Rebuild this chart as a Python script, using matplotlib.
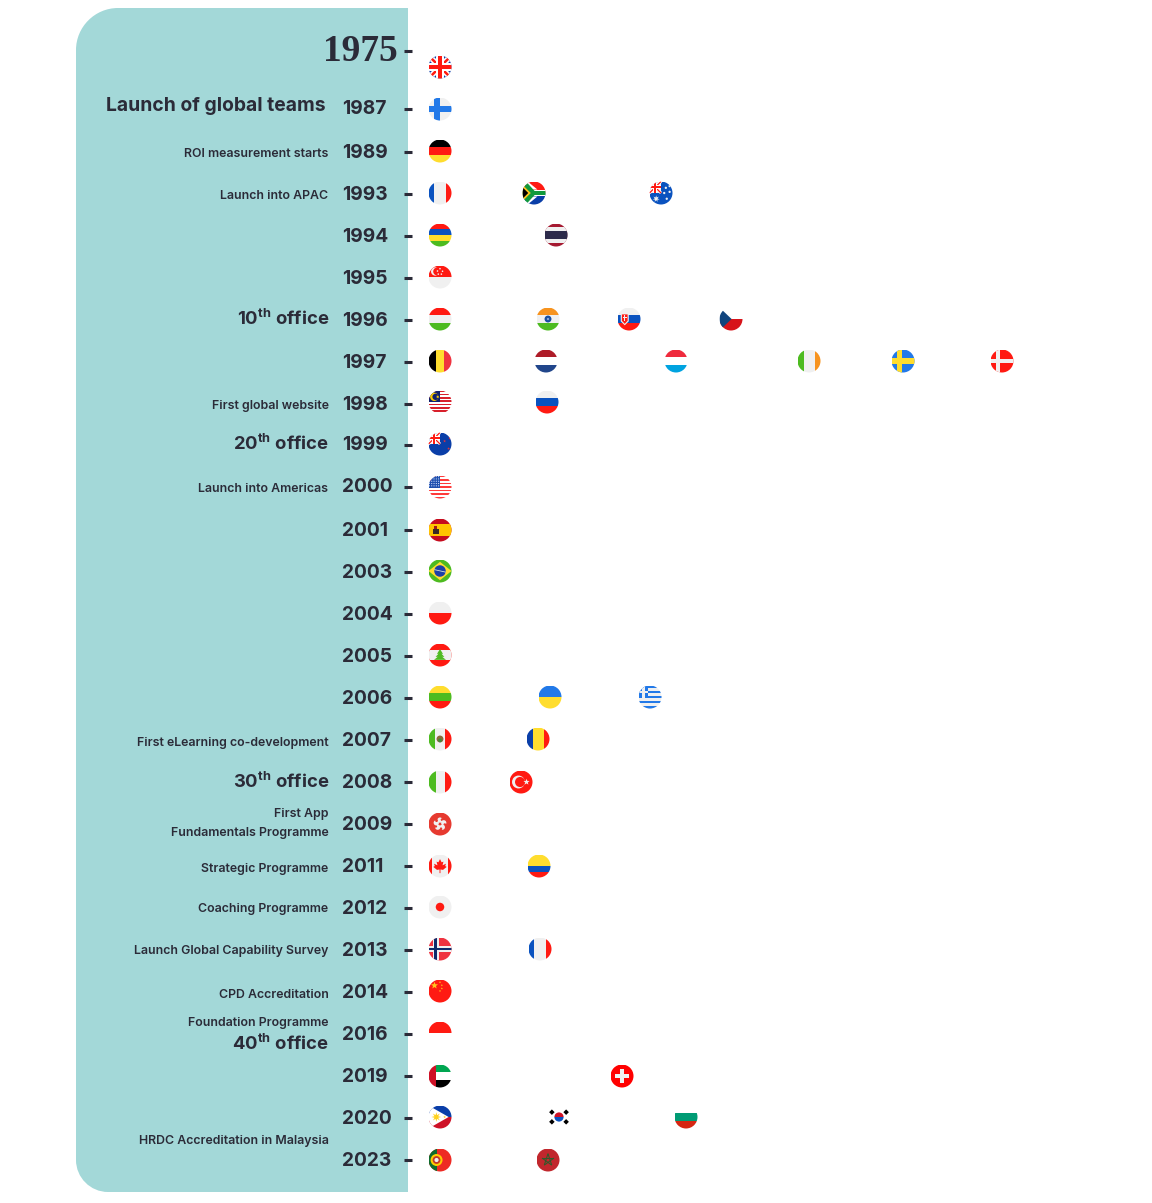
import numpy as np
import matplotlib
matplotlib.use('Agg')
import matplotlib.pyplot as plt
from matplotlib.patches import Circle, Polygon, PathPatch, Wedge
from matplotlib.path import Path

# Timeline rows
years = ['1975', '1987', '1989', '1993', '1994', '1995', '1996', '1997', '1998', '1999',
         '2000', '2001', '2003', '2004', '2005', '2006', '2007', '2008', '2009', '2011',
         '2012', '2013', '2014', '2016', '2019', '2020', '2023']
year_y = [50, 108, 151, 193, 235, 277, 319, 361, 403, 444, 486, 529, 571, 613, 655, 697,
          739, 781, 823, 865, 907, 949, 991, 1033, 1075, 1117, 1159.5]

# Countries opened each year, with where each flag sits along the row
year_flags = [['uk'], ['finland'], ['germany'], ['france', 'south_africa', 'australia'],
              ['mauritius', 'thailand'], ['singapore'],
              ['hungary', 'india', 'slovakia', 'czech'],
              ['belgium', 'netherlands', 'luxembourg', 'ireland', 'sweden', 'denmark'],
              ['malaysia', 'russia'], ['new_zealand'], ['usa'], ['spain'], ['brazil'],
              ['poland'], ['lebanon'], ['lithuania', 'ukraine', 'greece'],
              ['mexico', 'romania'], ['italy', 'turkey'], ['hong_kong'],
              ['canada', 'colombia'], ['japan'], ['norway', 'france'], ['china'],
              ['indonesia'], ['uae', 'switzerland'], ['philippines', 'korea', 'bulgaria'],
              ['portugal', 'morocco']]
flag_x = [[440], [440], [440], [440, 534, 661], [440, 556], [440], [440, 548, 629, 731],
          [440, 546, 676, 809, 903, 1002], [440, 547], [440], [440], [440], [440], [440],
          [440], [440, 550, 650], [440, 538], [440, 521], [440], [440, 539], [440],
          [440, 540], [440], [440], [440, 622], [440, 559, 686], [440, 548]]
flag_y = [67, 109, 151, 193, 235, 277, 319, 361, 402, 444, 487, 530, 571, 613, 655, 697,
          739, 782, 824, 866, 907, 949, 991, 1033, 1076, 1117, 1160]

# Events on the left of the timeline
big_events = ['Launch of global teams', '10$^{\\mathregular{th}}$ office',
              '20$^{\\mathregular{th}}$ office', '30$^{\\mathregular{th}}$ office',
              '40$^{\\mathregular{th}}$ office']
big_events_y = [106, 319, 444, 782, 1044]
big_events_right = [325.5, 329, 329, 329, 329]
big_events_pt = [13.9, 13.3, 13.3, 13.3, 13.3]
small_events = ['ROI measurement starts', 'Launch into APAC', 'First global website',
                'Launch into Americas', 'First eLearning co-development', 'First App',
                'Fundamentals Programme', 'Strategic Programme', 'Coaching Programme',
                'Launch Global Capability Survey', 'CPD Accreditation',
                'Foundation Programme', 'HRDC Accreditation in Malaysia']
small_events_y = [154, 196, 406, 489, 743, 814, 833, 869, 909, 951, 995, 1023, 1141]

panel_color = '#a3d8d8'
ink = '#2b2b38'
off_white = '#f0f0f0'
white = '#ffffff'
red = '#ff1a12'
blue = '#0a52bf'
green = '#4dbb20'
yellow = '#ffdd2e'
navy = '#0f3fa8'
sky = '#2279e8'

# Plain striped flags: direction, colours and the inner stripe edges
stripes = {
    'germany': ('h', ['#000000', red, yellow], [-0.36, 0.32]),
    'france': ('v', [blue, off_white, red], [-0.5, 0.5]),
    'mauritius': ('h', [red, blue, yellow, green], [-0.5, 0, 0.5]),
    'hungary': ('h', [red, off_white, green], [-0.35, 0.36]),
    'belgium': ('v', ['#000000', yellow, '#ef3340'], [-0.37, 0.31]),
    'netherlands': ('h', ['#ae1c28', white, '#21468b'], [-0.36, 0.34]),
    'luxembourg': ('h', ['#ef2b3d', white, '#00a3e0'], [-0.36, 0.34]),
    'ireland': ('v', [green, off_white, '#f7931e'], [-0.46, 0.5]),
    'russia': ('h', [off_white, blue, red], [-0.33, 0.35]),
    'poland': ('h', [off_white, red], [0]),
    'lithuania': ('h', [yellow, green, red], [-0.33, 0.35]),
    'ukraine': ('h', [sky, yellow], [0]),
    'romania': ('v', ['#0a3ea8', yellow, red], [-0.43, 0.49]),
    'italy': ('v', [green, off_white, red], [-0.33, 0.46]),
    'indonesia': ('h', [red, white], [0]),
    'bulgaria': ('h', [white, '#009b74', '#d62612'], [-0.33, 0.33]),
}

plt.rcParams['font.family'] = ['Inter', 'DejaVu Sans']
plt.rcParams['mathtext.default'] = 'regular'

fig = plt.figure(figsize=(11.52, 12.03), dpi=100)
ax = fig.add_axes([0, 0, 1, 1])
ax.set_xlim(0, 1152)
ax.set_ylim(1203, 0)
ax.axis('off')


class Flag:
    def __init__(self, cx, cy, r=11.5):
        self.cx, self.cy, self.r = cx, cy, r
        self.clip = Circle((cx, cy), r, fc='none', ec='none')
        ax.add_patch(self.clip)

    def put(self, patch):
        ax.add_patch(patch)
        patch.set_clip_path(self.clip)

    def poly(self, pts, c):
        pts = [(self.cx + x * self.r, self.cy + y * self.r) for x, y in pts]
        self.put(Polygon(pts, closed=True, fc=c, ec='none'))

    def rect(self, x0, y0, x1, y1, c):
        self.poly([(x0, y0), (x1, y0), (x1, y1), (x0, y1)], c)

    def disc(self, x, y, rad, c):
        self.put(Circle((self.cx + x * self.r, self.cy + y * self.r), rad * self.r, fc=c, ec='none'))

    def line(self, x0, y0, x1, y1, w, c):
        dx, dy = x1 - x0, y1 - y0
        n = np.hypot(dx, dy)
        ox, oy = -dy / n * w / 2, dx / n * w / 2
        self.poly([(x0 + ox, y0 + oy), (x1 + ox, y1 + oy), (x1 - ox, y1 - oy), (x0 - ox, y0 - oy)], c)

    def star(self, x, y, rad, c, n=5):
        ang = -np.pi / 2 + np.arange(2 * n) * np.pi / n
        rr = np.where(np.arange(2 * n) % 2 == 0, rad, rad * 0.42)
        self.poly(list(zip(x + rr * np.cos(ang), y + rr * np.sin(ang))), c)

    def union(self, x0, y0, x1, y1, s=1.0):
        # union jack fitted to a box
        self.line(x0, y0, x1, y1, 0.5 * s, white)
        self.line(x0, y1, x1, y0, 0.5 * s, white)
        self.line(x0, y0, x1, y1, 0.22 * s, red)
        self.line(x0, y1, x1, y0, 0.22 * s, red)
        xm, ym = (x0 + x1) / 2, (y0 + y1) / 2
        self.rect(xm - 0.32 * s, y0, xm + 0.32 * s, y1, white)
        self.rect(x0, ym - 0.32 * s, x1, ym + 0.32 * s, white)
        self.rect(xm - 0.21 * s, y0, xm + 0.21 * s, y1, red)
        self.rect(x0, ym - 0.21 * s, x1, ym + 0.21 * s, red)


def draw_flag(name, cx, cy):
    f = Flag(cx, cy)
    if name in stripes:
        direction, colors, inner = stripes[name]
        edges = [-1] + inner + [1]
        for a, b, c in zip(edges[:-1], edges[1:], colors):
            if direction == 'h':
                f.rect(-1, a, 1, b, c)
            else:
                f.rect(a, -1, b, 1, c)
    elif name == 'uk':
        f.rect(-1, -1, 1, 1, navy)
        f.union(-1, -1, 1, 1)
    elif name == 'finland':
        f.rect(-1, -1, 1, 1, off_white)
        f.rect(-0.56, -1, -0.02, 1, sky)
        f.rect(-1, -0.26, 1, 0.26, sky)
    elif name == 'south_africa':
        f.rect(-1, -1, 1, 0, red)
        f.rect(-1, 0, 1, 1, '#0a3ea8')
        f.rect(-1, -0.3, 1, 0.3, white)
        f.poly([(-1, -1), (-0.55, -1), (0.3, -0.3), (-0.2, -0.3)], white)
        f.poly([(-1, 1), (-0.55, 1), (0.3, 0.3), (-0.2, 0.3)], white)
        f.rect(-0.2, -0.18, 1, 0.18, '#119a3c')
        f.poly([(-1, -1), (-0.7, -1), (0.05, -0.18), (0.05, 0.18), (-0.7, 1), (-1, 1)], '#119a3c')
        f.poly([(-1, -0.72), (-0.28, 0), (-1, 0.72)], '#ffc61e')
        f.poly([(-1, -0.5), (-0.5, 0), (-1, 0.5)], '#000000')
    elif name == 'australia':
        f.rect(-1, -1, 1, 1, blue)
        f.rect(-1, -1, 0, 0, off_white)
        f.union(-1, -1, 0, 0, 0.5)
        f.star(-0.42, 0.5, 0.3, off_white, 7)
        for x, y in [(0.42, -0.45), (0.75, -0.1), (0.28, 0), (0.5, 0.5), (0.75, -0.6)]:
            f.disc(x, y, 0.1, off_white)
    elif name == 'thailand':
        f.rect(-1, -1, 1, 1, '#a51931')
        f.rect(-1, -0.66, 1, 0.66, off_white)
        f.rect(-1, -0.36, 1, 0.36, '#2d2a4a')
    elif name == 'singapore':
        f.rect(-1, -1, 1, 1, off_white)
        f.rect(-1, -1, 1, -0.02, red)
        f.disc(-0.42, -0.48, 0.36, off_white)
        f.disc(-0.25, -0.48, 0.34, red)
        for x, y in [(0, -0.72), (0.22, -0.5), (0.12, -0.25), (-0.15, -0.25), (-0.22, -0.52)]:
            f.disc(x, y, 0.07, off_white)
    elif name == 'india':
        f.rect(-1, -1, 1, -0.33, '#f7931e')
        f.rect(-1, -0.33, 1, 0.33, off_white)
        f.rect(-1, 0.33, 1, 1, green)
        f.disc(0, 0, 0.3, '#1a4fa0')
        f.disc(0, 0, 0.1, '#8aa8d8')
    elif name == 'slovakia':
        f.rect(-1, -1, 1, -0.33, off_white)
        f.rect(-1, -0.33, 1, 0.33, blue)
        f.rect(-1, 0.33, 1, 1, red)
        f.poly([(-0.72, -0.5), (-0.02, -0.5), (-0.02, 0.2), (-0.37, 0.55), (-0.72, 0.2)], off_white)
        f.poly([(-0.62, -0.4), (-0.12, -0.4), (-0.12, 0.15), (-0.37, 0.42), (-0.62, 0.15)], red)
        f.rect(-0.4, -0.33, -0.34, 0.2, off_white)
        f.rect(-0.54, -0.15, -0.2, -0.07, off_white)
    elif name == 'czech':
        f.rect(-1, -1, 1, 0, white)
        f.rect(-1, 0, 1, 1, '#d7141a')
        f.poly([(-1, -1), (0.05, 0), (-1, 1)], '#11457e')
    elif name == 'sweden':
        f.rect(-1, -1, 1, 1, sky)
        f.rect(-0.5, -1, -0.06, 1, yellow)
        f.rect(-1, -0.22, 1, 0.22, yellow)
    elif name == 'denmark':
        f.rect(-1, -1, 1, 1, red)
        f.rect(-0.52, -1, -0.14, 1, off_white)
        f.rect(-1, -0.19, 1, 0.19, off_white)
    elif name == 'malaysia':
        f.rect(-1, -1, 1, 1, white)
        for i in range(7):
            f.rect(-1, -1 + 2 * i / 7, 1, -1 + 2 * i / 7 + 1 / 7, '#d8202c')
        f.rect(-1, -1, 0, 0.02, '#10206e')
        f.disc(-0.5, -0.45, 0.36, '#ffcc00')
        f.disc(-0.38, -0.45, 0.28, '#10206e')
        f.star(-0.2, -0.45, 0.16, '#ffcc00', 7)
    elif name == 'new_zealand':
        f.rect(-1, -1, 1, 1, '#0a3ea8')
        f.rect(-1, -1, 0, 0, off_white)
        f.union(-1, -1, 0, 0, 0.5)
        for x, y in [(0.4, -0.25), (0.75, 0.4), (0.85, -0.5)]:
            f.star(x, y, 0.13, '#e8303a')
    elif name == 'usa':
        f.rect(-1, -1, 1, 1, '#ffffff')
        for i in range(7):
            f.rect(-1, -1 + 2 * i / 6.5, 1, -1 + 2 * i / 6.5 + 1 / 6.5, '#ff3b3b')
        f.rect(-1, -1, 0.02, 0.08, '#1d4fae')
        for y in np.arange(-0.9, 0.05, 0.2):
            for x in np.arange(-0.92, 0, 0.2):
                f.disc(x, y, 0.05, '#d8e4ff')
    elif name == 'spain':
        f.rect(-1, -1, 1, 1, '#c60b1e')
        f.rect(-1, -0.52, 1, 0.52, '#ffc400')
        f.rect(-0.65, -0.12, -0.1, 0.38, '#3a2a25')
        f.rect(-0.52, -0.36, -0.24, -0.12, '#a01818')
    elif name == 'brazil':
        f.rect(-1, -1, 1, 1, green)
        f.poly([(0, -0.8), (1, 0), (0, 0.8), (-1, 0)], yellow)
        f.disc(0, 0, 0.5, '#1d3fa8')
        f.line(-0.5, -0.12, 0.5, 0.1, 0.07, '#d8e4d8')
    elif name == 'lebanon':
        f.rect(-1, -1, 1, 1, red)
        f.rect(-1, -0.46, 1, 0.46, off_white)
        f.poly([(0, -0.52), (0.26, -0.1), (-0.26, -0.1)], green)
        f.poly([(0, -0.25), (0.38, 0.16), (-0.38, 0.16)], green)
        f.poly([(0, 0), (0.52, 0.42), (-0.52, 0.42)], green)
    elif name == 'greece':
        f.rect(-1, -1, 1, 1, off_white)
        for i in range(5):
            f.rect(-1, -1 + 4 * i / 9, 1, -1 + 4 * i / 9 + 2 / 9, sky)
        f.rect(-1, -1, -0.15, 0.1, sky)
        f.rect(-0.67, -1, -0.47, 0.1, off_white)
        f.rect(-1, -0.55, -0.15, -0.35, off_white)
    elif name == 'mexico':
        f.rect(-1, -1, -0.4, 1, green)
        f.rect(-0.4, -1, 0.46, 1, off_white)
        f.rect(0.46, -1, 1, 1, red)
        f.disc(0, 0, 0.3, '#8a6a3a')
        f.disc(0, 0.12, 0.16, '#3e8a3a')
    elif name == 'turkey':
        f.rect(-1, -1, 1, 1, red)
        f.disc(-0.22, 0, 0.56, off_white)
        f.disc(-0.08, 0, 0.44, red)
        f.star(0.48, 0, 0.28, off_white)
    elif name == 'hong_kong':
        f.rect(-1, -1, 1, 1, '#e63a30')
        for a in np.arange(5) * 2 * np.pi / 5 - np.pi / 2:
            f.disc(0.34 * np.cos(a), 0.34 * np.sin(a), 0.23, off_white)
            f.disc(0.42 * np.cos(a + 0.45), 0.42 * np.sin(a + 0.45), 0.12, '#e63a30')
    elif name == 'canada':
        f.rect(-1, -1, 1, 1, off_white)
        f.rect(-1, -1, -0.66, 1, red)
        f.rect(0.66, -1, 1, 1, red)
        f.poly([(0, -0.6), (0.14, -0.32), (0.3, -0.38), (0.22, -0.06), (0.52, -0.2), (0.45, 0),
                (0.58, 0.08), (0.26, 0.34), (0.04, 0.3), (0.04, 0.62), (-0.04, 0.62), (-0.04, 0.3),
                (-0.26, 0.34), (-0.58, 0.08), (-0.45, 0), (-0.52, -0.2), (-0.22, -0.06),
                (-0.3, -0.38), (-0.14, -0.32)], red)
    elif name == 'colombia':
        f.rect(-1, -1, 1, 0, yellow)
        f.rect(-1, 0, 1, 0.5, blue)
        f.rect(-1, 0.5, 1, 1, red)
    elif name == 'japan':
        f.rect(-1, -1, 1, 1, off_white)
        f.disc(0, 0, 0.37, red)
    elif name == 'norway':
        f.rect(-1, -1, 1, 1, '#ef3340')
        f.rect(-0.62, -1, -0.12, 1, off_white)
        f.rect(-1, -0.25, 1, 0.25, off_white)
        f.rect(-0.5, -1, -0.24, 1, '#0f2a6a')
        f.rect(-1, -0.12, 1, 0.12, '#0f2a6a')
    elif name == 'china':
        f.rect(-1, -1, 1, 1, red)
        f.star(-0.48, -0.48, 0.32, '#ffc61e')
        for x, y in [(0, -0.76), (0.16, -0.5), (0.16, -0.22), (0, 0)]:
            f.star(x, y, 0.1, '#ffc61e')
    elif name == 'uae':
        f.rect(-1, -1, -0.33, 1, '#ce1126')
        f.rect(-0.33, -1, 1, -0.33, '#00a651')
        f.rect(-0.33, -0.33, 1, 0.33, white)
        f.rect(-0.33, 0.33, 1, 1, '#000000')
    elif name == 'switzerland':
        f.rect(-1, -1, 1, 1, '#ff0000')
        f.rect(-0.2, -0.62, 0.2, 0.62, off_white)
        f.rect(-0.62, -0.2, 0.62, 0.2, off_white)
    elif name == 'philippines':
        f.rect(-1, -1, 1, 0, '#0a3ea8')
        f.rect(-1, 0, 1, 1, '#ce1126')
        f.poly([(-1, -1), (0.75, 0), (-1, 1)], white)
        f.star(-0.32, 0, 0.42, '#ffd21e', 8)
        f.star(0.4, 0, 0.12, '#ffd21e')
    elif name == 'korea':
        f.rect(-1, -1, 1, 1, white)
        f.put(Wedge((cx, cy), 0.4 * f.r, 180, 360, fc='#ce1126', ec='none'))
        f.put(Wedge((cx, cy), 0.4 * f.r, 0, 180, fc=blue, ec='none'))
        for x, y in [(-0.62, -0.42), (0.62, -0.42), (-0.62, 0.42), (0.62, 0.42)]:
            sign = 1 if x * y > 0 else -1
            f.line(x - 0.12, y + 0.12 * sign, x + 0.12, y - 0.12 * sign, 0.34, '#000000')
    elif name == 'portugal':
        f.rect(-1, -1, 1, 1, '#ee2a24')
        f.rect(-1, -1, -0.25, 1, '#0d6b2e')
        f.disc(-0.3, 0, 0.52, '#ffcc00')
        f.disc(-0.3, 0, 0.34, '#c0392b')
        f.disc(-0.3, 0, 0.18, off_white)
    elif name == 'morocco':
        f.rect(-1, -1, 1, 1, '#c1272d')
        ang = -np.pi / 2 + np.arange(6) * 4 * np.pi / 5
        for i in range(5):
            f.line(0.55 * np.cos(ang[i]), 0.55 * np.sin(ang[i]),
                   0.55 * np.cos(ang[i + 1]), 0.55 * np.sin(ang[i + 1]), 0.09, '#2f5a2a')


# Teal panel, rounded on the left only
rt, rb = 42, 32
kap = 0.45
panel = Path([(408, 8), (76 + rt, 8), (76 + rt * kap, 8), (76, 8 + rt * kap), (76, 8 + rt),
              (76, 1192 - rb), (76, 1192 - rb * kap), (76 + rb * kap, 1192), (76 + rb, 1192),
              (408, 1192), (408, 8)],
             [Path.MOVETO, Path.LINETO, Path.CURVE4, Path.CURVE4, Path.CURVE4,
              Path.LINETO, Path.CURVE4, Path.CURVE4, Path.CURVE4, Path.LINETO, Path.CLOSEPOLY])
ax.add_patch(PathPatch(panel, fc=panel_color, ec='none', zorder=0))

# Ticks and year labels
for i, (year, y) in enumerate(zip(years, year_y)):
    ax.plot([404, 412], [y + 0.5, y + 0.5], color=ink, lw=2.2, solid_capstyle='butt', zorder=3)
    if i == 0:
        ax.text(323, y + 11, year, family='Liberation Serif', weight='bold', fontsize=26.9,
                color=ink, ha='left', va='baseline')
    else:
        ax.text(342, y + 1.5, year, weight='bold', fontsize=13.8, color=ink, ha='left', va='center')

for label, y, right, pt in zip(big_events, big_events_y, big_events_right, big_events_pt):
    ax.text(right, y, label, weight='bold', fontsize=pt, color=ink, ha='right', va='center')
for label, y in zip(small_events, small_events_y):
    ax.text(328.5, y, label, weight='semibold', fontsize=8.9, color=ink, ha='right', va='center')

# Flags
for names, xs, y in zip(year_flags, flag_x, flag_y):
    for name, x in zip(names, xs):
        draw_flag(name, x, y)

fig.savefig('out.png', dpi=100)
